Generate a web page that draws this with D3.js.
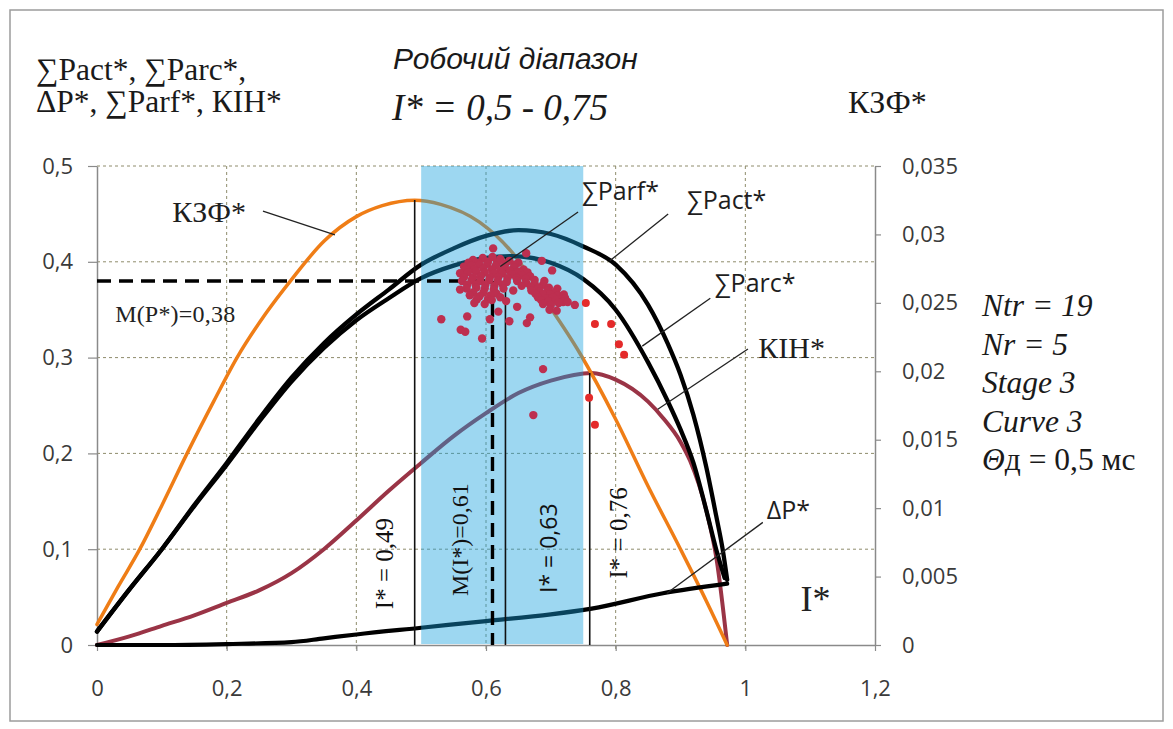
<!DOCTYPE html>
<html>
<head>
<meta charset="utf-8">
<script src="https://cdn.jsdelivr.net/npm/d3@7"></script>
<style>
  html, body { margin: 0; padding: 0; background: #fff; }
  svg { display: block; }
</style>
</head>
<body>
<svg id="chart" width="1173" height="729"></svg>
<script>
// ---- Data: I* on the x axis -------------------------------------------
// Power curves (left axis)
const sumPact = [[0,0.014],[0.05,0.058],[0.1,0.1],[0.15,0.146],[0.2,0.19],[0.25,0.236],[0.3,0.279],
  [0.35,0.315],[0.4,0.345],[0.45,0.371],[0.5,0.397],[0.55,0.414],[0.6,0.427],[0.65,0.433],[0.7,0.429],
  [0.75,0.416],[0.8,0.397],[0.85,0.355],[0.88,0.315],[0.9,0.282],[0.92,0.24],[0.94,0.185],[0.955,0.135],
  [0.965,0.1],[0.972,0.068]];
const sumParc = [[0,0.014],[0.05,0.058],[0.1,0.1],[0.15,0.145],[0.2,0.188],[0.25,0.233],[0.3,0.275],
  [0.35,0.31],[0.4,0.339],[0.45,0.362],[0.5,0.383],[0.55,0.396],[0.6,0.404],[0.64,0.406],[0.7,0.399],
  [0.75,0.382],[0.8,0.35],[0.85,0.295],[0.88,0.255],[0.9,0.225],[0.92,0.19],[0.94,0.14],[0.955,0.1],
  [0.968,0.07]];
const kih = [[0,0],[0.05,0.009],[0.1,0.02],[0.15,0.031],[0.2,0.044],[0.25,0.057],[0.3,0.075],[0.35,0.1],
  [0.4,0.13],[0.45,0.161],[0.5,0.19],[0.55,0.218],[0.6,0.242],[0.65,0.263],[0.7,0.276],[0.763,0.284],
  [0.8,0.277],[0.85,0.254],[0.873,0.237],[0.9,0.212],[0.915,0.192],[0.94,0.14],[0.956,0.088],[0.972,0]];
const deltaP = [[0,0],[0.1,0],[0.2,0.001],[0.3,0.003],[0.35,0.007],[0.4,0.011],[0.5,0.018],[0.6,0.025],
  [0.7,0.032],[0.763,0.038],[0.873,0.054],[0.972,0.064]];
// КЗФ* (right axis)
const kzf = [[0,0.0015],[0.033,0.0043],[0.066,0.007],[0.1,0.0102],[0.139,0.014],[0.18,0.0178],[0.216,0.021],
  [0.26,0.0242],[0.3,0.0267],[0.35,0.0295],[0.4,0.0313],[0.44,0.0321],[0.49,0.0325],[0.53,0.0322],
  [0.59,0.0309],[0.64,0.0287],[0.69,0.0253],[0.745,0.0213],[0.8,0.0165],[0.85,0.0116],[0.9,0.007],
  [0.94,0.0032],[0.972,0]];

// Measured ∑Parf* points (I*, P*)
const parfInRange = [
  [0.580,0.402],[0.595,0.404],[0.610,0.405],[0.622,0.403],[0.636,0.401],[0.650,0.399],
  [0.573,0.399],[0.588,0.399],[0.603,0.400],[0.617,0.399],[0.630,0.398],[0.644,0.397],
  [0.566,0.395],[0.577,0.396],[0.590,0.397],[0.602,0.398],[0.615,0.396],[0.628,0.395],[0.643,0.394],[0.658,0.392],
  [0.568,0.392],[0.582,0.392],[0.596,0.393],[0.609,0.392],[0.622,0.391],[0.636,0.391],[0.650,0.390],[0.664,0.389],
  [0.560,0.388],[0.572,0.389],[0.585,0.390],[0.598,0.389],[0.612,0.388],[0.625,0.388],[0.640,0.387],[0.655,0.386],[0.668,0.385],
  [0.566,0.384],[0.580,0.384],[0.592,0.385],[0.606,0.384],[0.619,0.384],[0.633,0.383],[0.647,0.383],[0.661,0.382],[0.675,0.381],[0.690,0.380],
  [0.563,0.380],[0.578,0.381],[0.591,0.380],[0.605,0.381],[0.618,0.380],[0.632,0.379],[0.648,0.380],[0.662,0.378],[0.675,0.377],[0.688,0.376],
  [0.571,0.376],[0.584,0.376],[0.599,0.376],[0.613,0.375],[0.626,0.376],[0.655,0.375],[0.669,0.374],[0.681,0.373],[0.697,0.373],[0.710,0.372],
  [0.570,0.372],[0.585,0.373],[0.598,0.372],[0.612,0.371],[0.627,0.372],[0.642,0.370],[0.670,0.370],[0.683,0.369],[0.695,0.370],[0.706,0.368],
  [0.580,0.368],[0.596,0.368],[0.616,0.367],[0.676,0.367],[0.688,0.366],[0.699,0.366],[0.711,0.365],[0.720,0.366],
  [0.575,0.365],[0.590,0.364],[0.607,0.365],[0.622,0.363],[0.680,0.363],[0.692,0.362],[0.703,0.363],[0.714,0.361],[0.722,0.362],
  [0.586,0.361],[0.603,0.361],[0.685,0.360],[0.697,0.359],[0.708,0.360],[0.719,0.358],
  [0.582,0.357],[0.598,0.356],[0.688,0.356],[0.700,0.355],[0.712,0.357],[0.726,0.358],
  [0.698,0.350],[0.709,0.349],
  [0.611,0.414],[0.662,0.409],[0.686,0.401],[0.702,0.391],[0.560,0.371],[0.531,0.340],[0.571,0.343],
  [0.561,0.329],[0.568,0.327],[0.594,0.320],[0.606,0.340],[0.619,0.348],[0.636,0.338],[0.631,0.359],
  [0.648,0.353],[0.663,0.336],[0.668,0.342],[0.609,0.360],[0.737,0.355],[0.688,0.288],[0.673,0.240]
];
const parfOutRange = [[0.754,0.357],[0.768,0.335],[0.793,0.335],[0.805,0.314],[0.813,0.303],[0.759,0.258],[0.768,0.230]];

// Axis ticks
const xTicks = [0, 0.2, 0.4, 0.6, 0.8, 1, 1.2];
const yLeftTicks = [0, 0.1, 0.2, 0.3, 0.4, 0.5];
const yRightTicks = [0, 0.005, 0.01, 0.015, 0.02, 0.025, 0.03, 0.035];

// Working range and reference markers
const workRange = [0.5, 0.75];
const meanI = 0.61, meanP = 0.38;
const markers = [
  { i: 0.49, top: 0.4645, label: "I* = 0,49", labelI: 0.443, labelP: 0.085, sans: false },
  { i: 0.63, top: 0.405,  label: "I* = 0,63", labelI: 0.696, labelP: 0.101, sans: true },
  { i: 0.76, top: 0.284,  label: "I* = 0,76", labelI: 0.805, labelP: 0.117, sans: false }
];

// Curve call-outs: text position and leader line ends, in (I*, left-axis value)
const callouts = [
  { text: "∑Parf*", tI: 0.748, tP: 0.464, from: [0.742, 0.452], to: [0.622, 0.395], sans: true },
  { text: "∑Pact*", tI: 0.910, tP: 0.455, from: [0.881, 0.450], to: [0.791, 0.401], sans: true },
  { text: "∑Parc*", tI: 0.953, tP: 0.368, from: [0.946, 0.362], to: [0.841, 0.312], sans: true },
  { text: "КІН*",   tI: 1.020, tP: 0.300, from: [1.004, 0.309], to: [0.865, 0.246], sans: false },
  { text: "ΔP*",    tI: 1.033, tP: 0.132, from: [1.027, 0.128], to: [0.879, 0.054], sans: true },
  { text: "КЗФ*",   tI: 0.116, tP: 0.442, from: [0.256, 0.453], to: [0.367, 0.428], sans: false }
];

// Side notes
const notes = ["Ntr = 19", "Nr = 5", "Stage 3", "Curve 3"];

// ---- Drawing ------------------------------------------------------------
const svg = d3.select("#chart");
const SERIF = "'Liberation Serif','Times New Roman',serif";
const SANS = "'Open Sans','Noto Sans',sans-serif";
const ARIAL = "'Liberation Sans',Arial,sans-serif";

const x = d3.scaleLinear().domain([0, 1.2]).range([97, 875]);
const yL = d3.scaleLinear().domain([0, 0.5]).range([645, 166]);
const yR = d3.scaleLinear().domain([0, 0.035]).range([645, 166]);
const fmt = d => String(d).replace(".", ",");

// outer frame
svg.append("rect").attr("x", 10).attr("y", 10).attr("width", 1153).attr("height", 711)
  .attr("fill", "#fff").attr("stroke", "#9c9c9c").attr("stroke-width", 1.5);

// grid
const grid = svg.append("g").attr("stroke", "#8f8c6c").attr("stroke-width", 1).attr("stroke-dasharray", "3,3");
grid.selectAll("line.h").data(yLeftTicks.filter(d => d > 0)).join("line")
  .attr("x1", x(0)).attr("x2", x(1.2)).attr("y1", d => yL(d)).attr("y2", d => yL(d));
grid.selectAll("line.v").data(xTicks.filter(d => d > 0 && d < 1.2)).join("line")
  .attr("y1", yL(0.5)).attr("y2", yL(0) + 6).attr("x1", d => x(d)).attr("x2", d => x(d));

// axes
function styleAxis(g) {
  g.select(".domain").attr("stroke", "#8a8a8a").attr("stroke-width", 1.5);
  g.selectAll(".tick line").attr("stroke", "#8a8a8a").attr("stroke-width", 1.2);
  g.selectAll(".tick text").attr("fill", "#3a3a3a").attr("font-family", SANS).attr("font-size", 22);
}
svg.append("g").attr("transform", `translate(0,${yL(0)})`)
  .call(d3.axisBottom(x).tickValues(xTicks).tickFormat(fmt).tickSize(6).tickSizeOuter(0).tickPadding(29))
  .call(styleAxis);
svg.append("g").attr("transform", `translate(${x(0)},0)`)
  .call(d3.axisLeft(yL).tickValues(yLeftTicks).tickFormat(fmt).tickSize(9).tickSizeOuter(0).tickPadding(15))
  .call(styleAxis);
svg.append("g").attr("transform", `translate(${x(1.2)},0)`)
  .call(d3.axisRight(yR).tickValues(yRightTicks).tickFormat(fmt).tickSize(6).tickSizeOuter(0).tickPadding(21))
  .call(styleAxis);

// curves
const lineL = d3.line().x(d => x(d[0])).y(d => yL(d[1])).curve(d3.curveMonotoneX);
const lineR = d3.line().x(d => x(d[0])).y(d => yR(d[1])).curve(d3.curveMonotoneX);
const curves = svg.append("g").attr("fill", "none").attr("stroke-linejoin", "round").attr("stroke-linecap", "round");
curves.append("path").attr("d", lineL(kih)).attr("stroke", "#9a3446").attr("stroke-width", 4);
curves.append("path").attr("d", lineR(kzf)).attr("stroke", "#ef7d16").attr("stroke-width", 3.5);
curves.append("path").attr("d", lineL(deltaP)).attr("stroke", "#000").attr("stroke-width", 4.2);
curves.append("path").attr("d", lineL(sumParc)).attr("stroke", "#000").attr("stroke-width", 4.3);
curves.append("path").attr("d", lineL(sumPact)).attr("stroke", "#000").attr("stroke-width", 4.3);

// working-range band, translucent over the curves
svg.append("rect")
  .attr("x", x(workRange[0])).attr("width", x(workRange[1]) - x(workRange[0]))
  .attr("y", yL(0.5)).attr("height", yL(0) - yL(0.5) - 1)
  .attr("fill", "rgb(22,160,222)").attr("fill-opacity", 0.42);

// reference verticals
svg.append("g").attr("stroke", "#111").attr("stroke-width", 1.6)
  .selectAll("line").data(markers).join("line")
  .attr("x1", d => x(d.i)).attr("x2", d => x(d.i))
  .attr("y1", d => yL(d.top)).attr("y2", yL(0));

// mean values, dashed
const dash = svg.append("g").attr("stroke", "#000").attr("stroke-width", 3.4).attr("stroke-dasharray", "14,8");
dash.append("line").attr("x1", x(0)).attr("x2", x(meanI)).attr("y1", yL(meanP)).attr("y2", yL(meanP));
dash.append("line").attr("x1", x(meanI)).attr("x2", x(meanI)).attr("y1", yL(meanP)).attr("y2", yL(0));

// ∑Parf* points
svg.append("g").selectAll("circle").data(parfInRange).join("circle")
  .attr("cx", d => x(d[0])).attr("cy", d => yL(d[1])).attr("r", 4.2).attr("fill", "#bd2f50");
svg.append("g").selectAll("circle").data(parfOutRange).join("circle")
  .attr("cx", d => x(d[0])).attr("cy", d => yL(d[1])).attr("r", 4).attr("fill", "#e42a2a");

// rotated marker labels
svg.append("g").selectAll("text").data(markers).join("text")
  .attr("transform", d => `translate(${x(d.labelI)},${yL(d.labelP)}) rotate(-90)`)
  .attr("text-anchor", "middle").attr("dominant-baseline", "central")
  .attr("font-family", d => d.sans ? SANS : SERIF).attr("font-size", d => d.sans ? 23 : 25)
  .attr("fill", "#111").text(d => d.label);
svg.append("text")
  .attr("transform", `translate(${x(0.56)},${yL(0.11)}) rotate(-90)`)
  .attr("text-anchor", "middle").attr("dominant-baseline", "central")
  .attr("font-family", SERIF).attr("font-size", 24).attr("fill", "#111").text("M(I*)=0,61");
svg.append("text").attr("x", x(0.028)).attr("y", yL(0.337))
  .attr("font-family", SERIF).attr("font-size", 24).attr("letter-spacing", 0.2)
  .attr("fill", "#222").text("M(P*)=0,38");

// call-outs
const co = svg.append("g");
co.selectAll("line").data(callouts).join("line")
  .attr("x1", d => x(d.from[0])).attr("y1", d => yL(d.from[1]))
  .attr("x2", d => x(d.to[0])).attr("y2", d => yL(d.to[1]))
  .attr("stroke", "#222").attr("stroke-width", 1.3);
co.selectAll("text").data(callouts).join("text")
  .attr("x", d => x(d.tI)).attr("y", d => yL(d.tP))
  .attr("font-family", d => d.sans ? SANS : SERIF).attr("font-size", d => d.sans ? 25 : 30)
  .attr("fill", "#1e1e1e").text(d => d.text);
svg.append("text").attr("x", x(1.085)).attr("y", yL(0.035))
  .attr("font-family", SERIF).attr("font-size", 36).attr("fill", "#222").text("I*");

// headings
const hd = svg.append("g").attr("fill", "#1a1a1a");
hd.append("text").attr("x", 36).attr("y", 80).attr("font-family", SERIF).attr("font-size", 31.5).text("∑Pact*, ∑Parc*,");
hd.append("text").attr("x", 36).attr("y", 112).attr("font-family", SERIF).attr("font-size", 31.5).text("ΔP*, ∑Parf*, КІН*");
hd.append("text").attr("x", 393).attr("y", 69).attr("font-family", ARIAL).attr("font-style", "italic")
  .attr("font-size", 30).text("Робочий діапазон");
hd.append("text").attr("x", 392).attr("y", 120).attr("font-family", SERIF).attr("font-style", "italic")
  .attr("font-size", 37).text("I* = 0,5 - 0,75");
hd.append("text").attr("x", 848).attr("y", 113).attr("font-family", SERIF).attr("font-size", 32).text("КЗФ*");

// side notes
const nt = svg.append("g").attr("fill", "#1a1a1a").attr("font-family", SERIF).attr("font-size", 31.5);
nt.selectAll("text").data(notes).join("text")
  .attr("x", 982).attr("y", (d, i) => 316 + i * 38.5).attr("font-style", "italic").text(d => d);
const last = nt.append("text").attr("x", 982).attr("y", 316 + 4 * 38.5);
last.append("tspan").attr("font-style", "italic").text("Θ");
last.append("tspan").text("д = 0,5 мс");
</script>
</body>
</html>
